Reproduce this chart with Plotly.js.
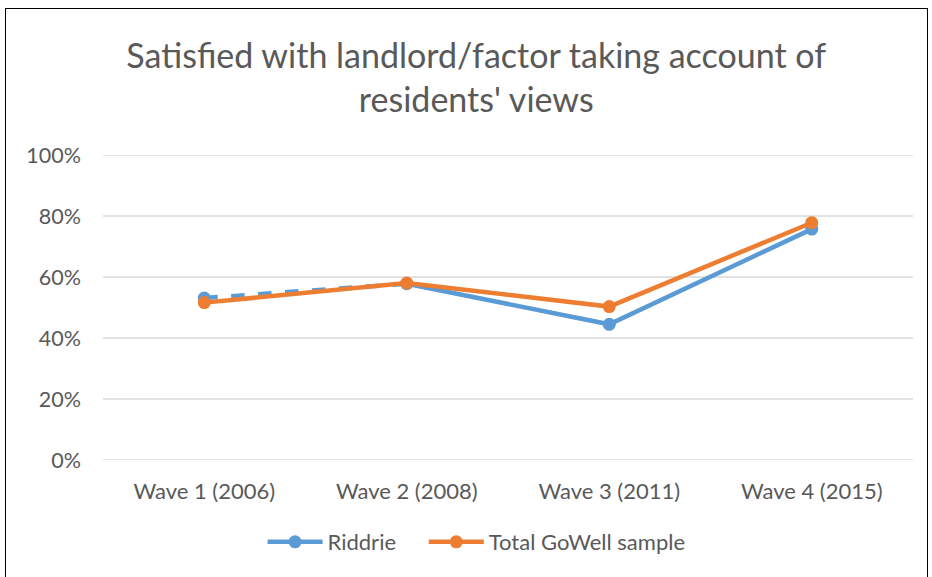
<!DOCTYPE html>
<html>
<head>
<meta charset="utf-8">
<script src="https://cdn.plot.ly/plotly-3.0.1.min.js"></script>
<style>
html,body{margin:0;padding:0;background:#fff;}
#frame{position:absolute;left:5px;top:8px;width:923px;height:575px;border:1.5px solid #000;box-sizing:border-box;}
#chart{position:absolute;left:0;top:0;width:932px;height:577px;}
</style>
</head>
<body>
<div id="frame"></div>
<div id="chart"></div>
<script>
const categories = ["Wave 1 (2006)", "Wave 2 (2008)", "Wave 3 (2011)", "Wave 4 (2015)"];
const riddrie = [0.531, 0.578, 0.445, 0.757];
const totalGoWell = [0.516, 0.580, 0.503, 0.778];
const yTicks = [0, 0.2, 0.4, 0.6, 0.8, 1.0];
const yTickLabels = ["0%", "20%", "40%", "60%", "80%", "100%"];

const blue = "#5B9BD5";
const orange = "#ED7D31";
const font = "Lato, Open Sans, sans-serif";

const traces = [
  {
    x: categories.slice(0, 2), y: riddrie.slice(0, 2),
    type: "scatter", mode: "lines",
    line: {color: blue, width: 4.5, dash: "dash"},
    showlegend: false, hoverinfo: "skip"
  },
  {
    x: categories.slice(1), y: riddrie.slice(1),
    type: "scatter", mode: "lines",
    line: {color: blue, width: 4.5},
    showlegend: false, hoverinfo: "skip"
  },
  {
    x: categories, y: riddrie, name: "Riddrie",
    type: "scatter", mode: "markers",
    marker: {color: blue, size: 13},
    showlegend: false
  },
  {
    x: [null], y: [null], name: "Riddrie",
    type: "scatter", mode: "lines+markers",
    line: {color: blue, width: 4.5},
    marker: {color: blue, size: 13},
    legend: "legend"
  },
  {
    x: categories, y: totalGoWell, name: "Total GoWell sample",
    type: "scatter", mode: "lines+markers",
    line: {color: orange, width: 4.5},
    marker: {color: orange, size: 13},
    legend: "legend2"
  }
];

const gridShapes = yTicks.map(v => ({
  type: "line", xref: "paper", yref: "y",
  x0: 0, x1: 1, y0: v, y1: v,
  line: {color: "#D9D9D9", width: 1.3},
  layer: "below"
}));

const legendStyle = {
  orientation: "h",
  y: -0.2, yanchor: "top", xanchor: "left",
  font: {family: font, size: 22, color: "#595959"},
  itemwidth: 55,
  bgcolor: "rgba(0,0,0,0)"
};

const layout = {
  width: 932, height: 577,
  paper_bgcolor: "rgba(0,0,0,0)",
  plot_bgcolor: "rgba(0,0,0,0)",
  margin: {l: 103, r: 19, t: 155, b: 117},
  title: {
    text: "Satisfied with landlord/factor taking account of<br>residents' views",
    font: {family: font, size: 34, color: "#595959"},
    x: 0.511, xanchor: "center",
    yanchor: "middle", yref: "container"
  },
  xaxis: {
    type: "category",
    range: [-0.5, 3.5],
    showgrid: false, zeroline: false,
    showline: false, ticks: "",
    tickfont: {family: font, size: 22, color: "#595959"},
    ticklabelstandoff: 16,
    fixedrange: true
  },
  yaxis: {
    range: [0, 1.0],
    tickvals: yTicks, ticktext: yTickLabels,
    showgrid: false,
    zeroline: false, showline: false, ticks: "",
    tickfont: {family: font, size: 21.5, color: "#595959"},
    ticklabelstandoff: 21,
    fixedrange: true
  },
  shapes: gridShapes,
  legend: Object.assign({}, legendStyle, {x: 0.197}),
  legend2: Object.assign({}, legendStyle, {x: 0.396}),
  showlegend: true
};
layout.title.y = 1 - 68 / 577;

Plotly.newPlot("chart", traces, layout, {displayModeBar: false, staticPlot: true});
</script>
</body>
</html>
